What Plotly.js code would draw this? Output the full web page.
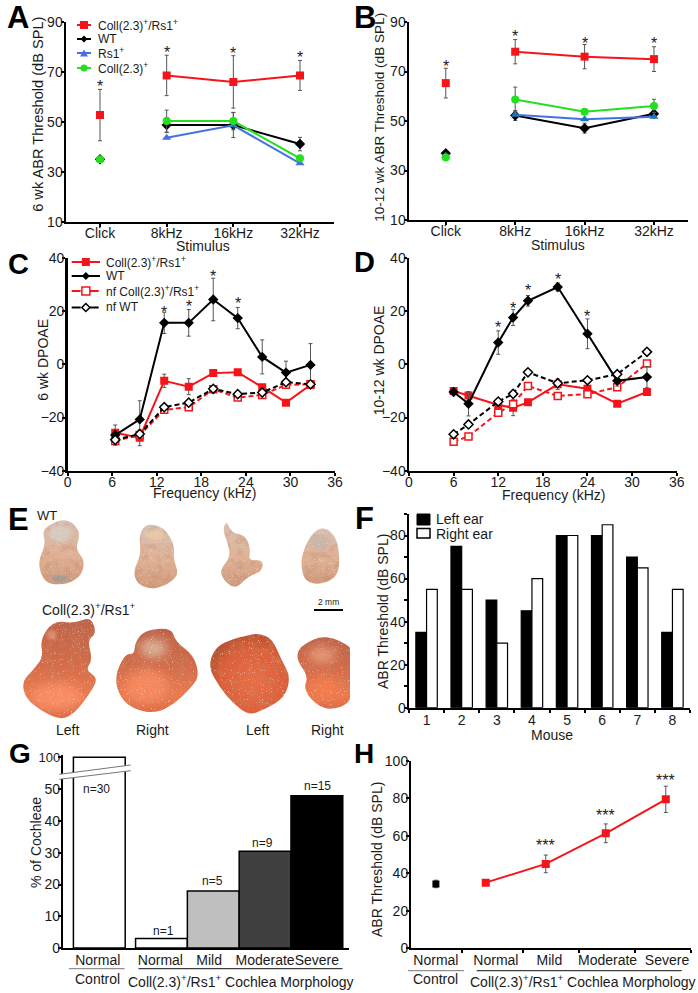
<!DOCTYPE html>
<html>
<head>
<meta charset="utf-8">
<script src="https://cdn.plot.ly/plotly-3.0.1.min.js"></script>
<style>html,body{margin:0;padding:0;background:#fff}</style>
</head>
<body>
<div id="plot" style="width:698px;height:993px"></div>
<script>
var W = 698, H = 993;
var FONT = '"Liberation Sans", Arial, sans-serif';
var COLL_RS1 = 'Coll(2.3)<sup>+</sup>/Rs1<sup>+</sup>';
var COLL = 'Coll(2.3)<sup>+</sup>';
var RS1 = 'Rs1<sup>+</sup>';

// panel A + B, Click is not joined to the rest so a null sits in the gap
var stimLabels = ['Click', '8kHz', '16kHz', '32kHz'];
var stimTicks = [0, 1, 2, 3];
var stimX = [0, 0.5, 1, 2, 3];

var aRed = [52.7, null, 68.6, 66, 68.6];
var aRedErr = [10.3, 0, 8.1, 10.5, 6];
var aWT = [35, null, 48.7, 48.7, 41.1];
var aWTErr = [0, 0, 3, 5, 2.7];
var aRs1 = [34.7, null, 43.6, 48.6, 33.4];
var aColl = [35, null, 50.3, 50.3, 35.4];
var aCollErr = [0, 0, 4.4, 3.5, 0];
var aStarX = [0, 1, 2, 3];
var aStarY = [65.4, 79, 78.5, 77];

var bRed = [65.3, null, 78, 76, 75];
var bRedErr = [6, 0, 4.9, 4.9, 5];
var bWT = [37, null, 52.2, 47.1, 52.9];
var bWTErr = [0, 0, 2, 2, 0];
var bRs1 = [36, null, 52.5, 50.7, 51.7];
var bColl = [35.3, null, 58.7, 53.7, 56.1];
var bCollErr = [0, 0, 5, 0, 2.7];
var bStarX = [0, 1, 2, 3];
var bStarY = [73.3, 85.4, 82.7, 82.5];

// panel C
var cFreq = [6.4, 9.7, 13, 16.3, 19.6, 22.9, 26.2, 29.4, 32.7];
var cRed = [-25.7, -27.6, -6.2, -8.4, -3.3, -3, -8.6, -14.4, -7.7];
var cRedErr = [1, 3, 2.5, 3, 1, 1, 1, 1, 1];
var cWT = [-26.6, -20.7, 15.6, 15.6, 24.4, 17.4, 2.8, -3.1, -0.2];
var cWTErr = [3.8, 7, 4, 5, 8, 4, 6.4, 4.3, 8];
var cNfRed = [-28.8, -26.6, -17.1, -16.1, -9.4, -12.5, -11.5, -7.7, -7.5];
var cNfWT = [-28.4, -26.2, -16.1, -14.4, -9.2, -11.2, -10.6, -6.7, -7.5];
var cStarX = [13, 16.3, 19.6, 22.9];
var cStarY = [20.5, 22.8, 34, 24];

// panel D
var dFreq = [6, 8, 12, 14, 16, 20, 24, 28, 32];
var dRed = [-10, -11.7, -15.3, -16.3, -14.3, -7.5, -9.2, -14.8, -10.4];
var dRedErr = [1, 1, 1, 3, 1, 2, 1, 1, 1];
var dWT = [-10.4, -14.8, 8.2, 17.6, 23.9, 29.1, 11.5, -6.2, -4.8];
var dWTErr = [1, 4.6, 4.4, 3, 2, 1.5, 5.6, 2, 4];
var dNfRed = [-29.1, -27.1, -18.2, -15, -8.1, -11.9, -11.2, -8.6, 0.3];
var dNfWT = [-26.3, -22.6, -14, -11.1, -3, -7.1, -6, -3.7, 4.7];
var dStarX = [12, 14, 16, 20, 24];
var dStarY = [14.9, 22.2, 29, 33, 19];

// panel F
var mice = [1, 2, 3, 4, 5, 6, 7, 8];
var leftEar = [35, 75, 50, 45, 80, 80, 70, 35];
var rightEar = [55, 55, 30, 60, 80, 85, 65, 55];

// panel G
var gX = [0, 1.2, 2.2, 3.2, 4.2];
var gPct = [100, 3, 18, 30.5, 48];
var gFill = ['#ffffff', '#ffffff', '#bfbfbf', '#404040', '#000000'];
var gN = ['n=30', 'n=1', 'n=5', 'n=9', 'n=15'];
var gNX = [-0.06, 1.23, 2.18, 3.15, 4.22];
var gNY = [50, 5.5, 21, 33, 51];
var gTickX = [-0.03, 1.18, 2.12, 3.2, 4.2];
var gTickText = ['Normal', 'Normal', 'Mild', 'Moderate', 'Severe'];

// panel H
var hCtrlX = [-0.83];
var hCtrlY = [34.3];
var hCtrlErr = [2];
var hX = [0, 1, 2, 3];
var hY = [35, 45, 61.3, 79.4];
var hErr = [1.5, 4.7, 5, 7];
var hStarX = [1, 2, 3];
var hStarY = [56.3, 72.5, 91];
var hTickX = [-0.83, 0.17, 1.06, 2.03, 3.02];
var hTickText = ['Normal', 'Normal', 'Mild', 'Moderate', 'Severe'];
var hSepX = [-0.4, 0.617, 1.55, 2.49, 3.42];

var RED = '#f5141a', BLUE = '#4472e0', GREEN = '#22e01e', ERR = '#555555';
var DASH = '5px,3px';

function dx(a, b) { return [a / W, b / W]; }
function dy(top, bot) { return [1 - bot / H, 1 - top / H]; }
function px(x) { return x / W; }
function py(y) { return 1 - y / H; }

function series(xa, ya, x, y, color, symbol, size, err, dash, open) {
  var t = {
    x: x, y: y, xaxis: xa, yaxis: ya, type: 'scatter', mode: 'lines+markers',
    line: {color: color, width: 2, dash: dash || 'solid'},
    marker: {symbol: symbol, size: size, color: open ? '#ffffff' : color, line: {color: color, width: open ? 1.5 : 0}}
  };
  if (err) t.error_y = {type: 'data', array: err, color: ERR, thickness: 1, width: 2};
  return t;
}

function axisBase(extra) {
  var a = {
    showline: true, linecolor: '#000', showgrid: false, zeroline: false,
    ticks: 'outside', ticklen: 3, tickwidth: 2, tickcolor: '#000', tickangle: 0,
    tickfont: {family: FONT, size: 14, color: '#1a1a1a'}, fixedrange: true
  };
  return Object.assign(a, extra);
}

var traces = [
  // A
  series('x', 'y', stimX, aWT, '#000000', 'diamond', 8, aWTErr),
  series('x', 'y', stimX, aRs1, BLUE, 'triangle-up', 8),
  series('x', 'y', stimX, aColl, GREEN, 'circle', 8, aCollErr),
  series('x', 'y', stimX, aRed, RED, 'square', 8, aRedErr),
  // B
  series('x2', 'y2', stimX, bWT, '#000000', 'diamond', 8, bWTErr),
  series('x2', 'y2', stimX, bRs1, BLUE, 'triangle-up', 8),
  series('x2', 'y2', stimX, bColl, GREEN, 'circle', 8, bCollErr),
  series('x2', 'y2', stimX, bRed, RED, 'square', 8, bRedErr),
  // C
  series('x3', 'y3', cFreq, cRed, RED, 'square', 8, cRedErr),
  series('x3', 'y3', cFreq, cNfRed, RED, 'square', 7, null, DASH, true),
  series('x3', 'y3', cFreq, cWT, '#000000', 'diamond', 8, cWTErr),
  series('x3', 'y3', cFreq, cNfWT, '#000000', 'diamond', 7, null, DASH, true),
  // D
  series('x4', 'y4', dFreq, dRed, RED, 'square', 8, dRedErr),
  series('x4', 'y4', dFreq, dNfRed, RED, 'square', 7, null, DASH, true),
  series('x4', 'y4', dFreq, dWT, '#000000', 'diamond', 8, dWTErr),
  series('x4', 'y4', dFreq, dNfWT, '#000000', 'diamond', 7, null, DASH, true),
  // F
  {x: mice, y: leftEar, xaxis: 'x5', yaxis: 'y5', type: 'bar', name: 'Left ear',
    marker: {color: '#000', line: {color: '#000', width: 1.2}}},
  {x: mice, y: rightEar, xaxis: 'x5', yaxis: 'y5', type: 'bar', name: 'Right ear',
    marker: {color: '#fff', line: {color: '#000', width: 1.2}}},
  // G, drawn twice because of the axis break
  {x: gX, y: gPct, xaxis: 'x6', yaxis: 'y6', type: 'bar', width: 1,
    marker: {color: gFill, line: {color: '#000', width: 1.5}}},
  {x: gX, y: gPct, xaxis: 'x6', yaxis: 'y7', type: 'bar', width: 1,
    marker: {color: gFill, line: {color: '#000', width: 1.5}}},
  // H
  series('x8', 'y8', hCtrlX, hCtrlY, '#000000', 'square', 7, hCtrlErr),
  series('x8', 'y8', hX, hY, RED, 'square', 8, hErr)
];
// B has darker triangles than A
traces[5].marker.color = '#1f74b8';

var annotations = [];
var shapes = [];

function paperText(text, x, y, size, anchor, angle, bold) {
  annotations.push({
    xref: 'paper', yref: 'paper', x: px(x), y: py(y), xanchor: anchor || 'center', yanchor: 'middle',
    text: bold ? '<b>' + text + '</b>' : text, showarrow: false, textangle: angle || 0,
    font: {family: FONT, size: size, color: bold ? '#000' : '#1a1a1a'}
  });
}

function stars(xa, ya, xs, ys, text) {
  xs.forEach(function (v, i) {
    annotations.push({
      xref: xa, yref: ya, x: v, y: ys[i], text: text || '*', showarrow: false, yshift: -3,
      font: {family: FONT, size: 16, color: '#222'}
    });
  });
}

function line(x0, y0, x1, y1, color, width, dash) {
  shapes.push({type: 'line', xref: 'paper', yref: 'paper', x0: px(x0), y0: py(y0), x1: px(x1), y1: py(y1),
    line: {color: color, width: width, dash: dash || 'solid'}});
}

function poly(points, fill, outline, lw) {
  var d = points.map(function (p, i) { return (i ? 'L' : 'M') + px(p[0]) + ',' + py(p[1]); }).join(' ') + ' Z';
  shapes.push({type: 'path', xref: 'paper', yref: 'paper', path: d, fillcolor: fill,
    line: {color: outline || fill, width: lw || 0}});
}

function glyph(kind, x, y, r, color, open) {
  var fill = open ? '#ffffff' : color, lw = open ? 1.5 : 0;
  if (kind == 'square') poly([[x - r, y - r], [x + r, y - r], [x + r, y + r], [x - r, y + r]], fill, color, lw);
  if (kind == 'diamond') poly([[x, y - r - 1], [x + r + 1, y], [x, y + r + 1], [x - r - 1, y]], fill, color, lw);
  if (kind == 'triangle') poly([[x, y - r], [x + r + 0.5, y + r], [x - r - 0.5, y + r]], fill, color, lw);
  if (kind == 'circle') shapes.push({type: 'circle', xref: 'paper', yref: 'paper', x0: px(x - r), x1: px(x + r), y0: py(y + r), y1: py(y - r), fillcolor: fill, line: {width: 0}});
}

// hand placed legends, the native one has rows too tall for these panels
function legendRow(name, y, x0, x1, tx, kind, r, color, dash, open) {
  line(x0, y, x1, y, color, 2, dash);
  glyph(kind, (x0 + x1) / 2, y, r, color, open);
  paperText(name, tx, y, 12, 'left');
}

legendRow(COLL_RS1, 25, 77, 91, 96, 'square', 4, RED);
legendRow('WT', 39, 77, 91, 96, 'diamond', 2.5, '#000000');
legendRow(RS1, 53, 77, 91, 96, 'triangle', 3.5, BLUE);
legendRow(COLL, 68, 77, 91, 96, 'circle', 3.5, GREEN);

legendRow(COLL_RS1, 262, 71.7, 100, 104, 'square', 4, RED);
legendRow('WT', 276, 71.7, 100, 104, 'diamond', 3, '#000000');
legendRow('nf ' + COLL_RS1, 291, 71.7, 100, 104, 'square', 4, RED, 'dash', true);
legendRow('nf WT', 307.5, 71.7, 100, 104, 'diamond', 3, '#000000', 'dash', true);

poly([[417, 514], [430, 514], [430, 525], [417, 525]], '#000', '#000', 1);
poly([[417, 528.5], [430, 528.5], [430, 538], [417, 538]], '#fff', '#000', 1.5);
paperText('Left ear', 434, 519, 14, 'left');
paperText('Right ear', 434, 533.5, 14, 'left');

// axis titles
paperText('6 wk ABR Threshold (dB SPL)', 38.3, 114.5, 14.6, 'center', -90);
paperText('10-12 wk ABR Threshold (dB SPL)', 379.3, 117.5, 13.6, 'center', -90);
paperText('6 wk DPOAE', 42.7, 360, 14, 'center', -90);
paperText('10-12 wk DPOAE', 379.3, 360, 14, 'center', -90);
paperText('ABR Threshold (dB SPL)', 383, 612, 14, 'center', -90);
paperText('% of Cochleae', 36, 843, 14, 'center', -90);
paperText('ABR Threshold (dB SPL)', 377, 860, 14, 'center', -90);
paperText('Stimulus', 202.7, 246, 14);
paperText('Stimulus', 557.7, 245, 14);
paperText('Frequency (kHz)', 204, 493, 14);
paperText('Frequency (kHz)', 553, 495, 14);
paperText('Mouse', 551.7, 735, 14);

// panel letters
[['A', 5, 17, 31], ['B', 352, 17, 31], ['C', 6, 264, 29], ['D', 352, 262, 29],
 ['E', 6, 519, 31], ['F', 353, 518, 31], ['G', 7, 753, 28], ['H', 352, 753, 28]].forEach(function (l) {
  paperText(l[0], l[1], l[2], l[3], 'left', 0, true);
});

// panel E labels
paperText('WT', 35, 515, 13, 'left');
paperText(COLL_RS1, 40, 609, 14, 'left');
paperText('2 mm', 328, 602, 8.5);
line(314, 610, 343, 610, '#000', 2);
[['Left', 67], ['Right', 152], ['Left', 257], ['Right', 327]].forEach(function (l) {
  paperText(l[0], l[1], 730, 14);
});

// group captions of G and H
line(69, 968.7, 124.5, 968.7, '#777', 1);
line(138.5, 968.7, 342.5, 968.7, '#111', 1);
paperText('Control', 97.7, 979, 14);
paperText(COLL_RS1 + ' Cochlea Morphology', 241, 981, 14);
line(408, 970.7, 464, 970.7, '#777', 1);
line(476.7, 970.7, 681.7, 970.7, '#111', 1);
paperText('Control', 435.7, 979, 14);
paperText(COLL_RS1 + ' Cochlea Morphology', 582.5, 981, 14);

// axis break in G
poly([[59.3, 774.3], [130.7, 765], [130.7, 770.7], [59.3, 779.3]], '#fff', '#fff', 0);
line(59.3, 774.3, 130.7, 765, '#777', 1);
line(59.3, 779.3, 130.7, 770.7, '#777', 1);

stars('x', 'y', aStarX, aStarY);
stars('x2', 'y2', bStarX, bStarY);
stars('x3', 'y3', cStarX, cStarY);
stars('x4', 'y4', dStarX, dStarY);
stars('x8', 'y8', hStarX, hStarY, '***');

gN.forEach(function (t, i) {
  annotations.push({xref: 'x6', yref: 'y6', x: gNX[i], y: gNY[i], text: t, showarrow: false,
    font: {family: FONT, size: 12, color: '#1a1a1a'}});
});

// panel E has photographs in the original, painted here as an svg backdrop
var wtOutlines = [
  [[172,62],[205,60],[228,78],[240,105],[226,150],[254,178],[246,225],[205,252],[150,254],[125,230],[114,185],[138,130],[125,90]],
  [[440,70],[492,82],[524,135],[520,180],[538,225],[495,258],[450,268],[410,250],[400,210],[424,165],[416,105]],
  [[680,62],[694,98],[737,106],[752,150],[745,182],[790,180],[786,214],[745,228],[706,268],[670,240],[660,210],[692,170],[682,125],[668,90]],
  [[955,84],[989,88],[1016,130],[1019,215],[990,244],[945,254],[911,238],[901,180],[925,116]]
];
var collOutlines = [
  [[160,362],[225,370],[272,350],[290,400],[262,420],[278,480],[256,510],[296,535],[265,587],[222,642],[180,660],[120,630],[76,594],[66,545],[100,510],[130,470],[120,420]],
  [[435,390],[515,384],[526,425],[582,466],[598,530],[572,564],[525,610],[470,640],[406,630],[360,594],[343,530],[376,460],[402,464],[406,425]],
  [[700,416],[745,406],[775,400],[817,416],[844,480],[872,530],[854,594],[790,630],[745,646],[700,610],[660,564],[624,500],[646,440]],
  [[925,426],[960,410],[1000,414],[1034,430],[1060,450],[1060,594],[1020,626],[960,626],[910,570],[925,530],[890,480],[896,446]]
];
var collFills = ['url(#c1)', 'url(#c1)', 'url(#c2)', 'url(#c1)'];

// round the corners, midpoint to midpoint through each outline point
function smooth(pts) {
  var n = pts.length;
  var mid = function (a, b) { return ((a[0] + b[0]) / 2) + ',' + ((a[1] + b[1]) / 2); };
  var d = 'M' + mid(pts[n - 1], pts[0]);
  pts.forEach(function (p, i) {
    d += ' Q' + p[0] + ',' + p[1] + ' ' + mid(p, pts[(i + 1) % n]);
  });
  return d + 'Z';
}

function photoSvg() {
  var wt = wtOutlines.map(smooth), coll = collOutlines.map(smooth);
  var s = '<svg xmlns="http://www.w3.org/2000/svg" viewBox="0 0 1050 720" width="1050" height="720"><defs>' +
    '<linearGradient id="w" x1="0" y1="0" x2="0" y2="1"><stop offset="0" stop-color="#d6c0b2"/><stop offset=".55" stop-color="#dfb196"/><stop offset="1" stop-color="#d09a7e"/></linearGradient>' +
    '<linearGradient id="c1" x1="0" y1="0" x2="0" y2="1"><stop offset="0" stop-color="#bd6348"/><stop offset=".45" stop-color="#d36c4a"/><stop offset=".8" stop-color="#ee7a50"/><stop offset="1" stop-color="#dd6a44"/></linearGradient>' +
    '<radialGradient id="c2" cx=".55" cy=".6" r=".6"><stop offset="0" stop-color="#e86f48"/><stop offset=".7" stop-color="#db5f3a"/><stop offset="1" stop-color="#b85230"/></radialGradient>' +
    '<clipPath id="cc"><path d="' + coll.join(' ') + '"/></clipPath>' +
    '<clipPath id="ww"><path d="' + wt.join(' ') + '"/></clipPath>' +
    '<filter id="soft"><feGaussianBlur stdDeviation="1.5"/></filter><filter id="blur"><feGaussianBlur stdDeviation="14"/></filter><filter id="blur2"><feGaussianBlur stdDeviation="5"/></filter>' +
    '<filter id="tex"><feTurbulence type="fractalNoise" baseFrequency=".3" numOctaves="2" seed="4"/><feColorMatrix values="0 0 0 0 1 0 0 0 0 .88 0 0 0 0 .72 0 0 0 6 -3.9"/><feComposite in2="SourceGraphic" operator="in"/></filter>' +
    '<filter id="mot"><feTurbulence type="fractalNoise" baseFrequency=".045" numOctaves="3" seed="9"/><feColorMatrix values="0 0 0 0 .55 0 0 0 0 .24 0 0 0 0 .12 0 0 0 4 -1.9"/><feComposite in2="SourceGraphic" operator="in"/></filter>' +
    '</defs><rect width="1050" height="720" fill="#fff"/>';
  wt.concat(coll).forEach(function (d, i) {
    var fill = i < 4 ? 'url(#w)' : collFills[i - 4];
    s += '<path d="' + d + '" fill="' + fill + '" filter="url(#soft)"/>';
  });
  wt.concat(coll).forEach(function (d) {
    s += '<path d="' + d + '" fill="#fff" opacity=".3" filter="url(#mot)"/>';
  });
  s += '<g clip-path="url(#cc)"><g filter="url(#blur)"><ellipse cx="170" cy="590" rx="75" ry="40" fill="#f88c64"/><ellipse cx="440" cy="560" rx="65" ry="50" fill="#f4885f"/>' +
    '<ellipse cx="460" cy="445" rx="40" ry="28" fill="#d9ad94"/><ellipse cx="975" cy="565" rx="45" ry="32" fill="#f27b4c"/><ellipse cx="965" cy="465" rx="40" ry="25" fill="#e59574"/></g>' +
    '<circle cx="155" cy="405" r="15" fill="#d98a6c" filter="url(#blur2)"/></g>';
  s += '<g clip-path="url(#ww)" filter="url(#blur2)"><ellipse cx="180" cy="236" rx="26" ry="9" fill="#9d9a96"/><ellipse cx="180" cy="100" rx="32" ry="26" fill="#d8c9bf"/>' +
    '<ellipse cx="960" cy="125" rx="28" ry="20" fill="#c9b6aa"/><ellipse cx="465" cy="105" rx="30" ry="16" fill="#eac6a8"/></g>';
  wt.concat(coll).forEach(function (d) {
    s += '<path d="' + d + '" fill="#fff" opacity=".55" filter="url(#tex)"/>';
  });
  return s + '</svg>';
}

var layout = {
  width: W, height: H, margin: {l: 0, r: 0, t: 0, b: 0}, autosize: false,
  paper_bgcolor: '#fff', plot_bgcolor: 'rgba(0,0,0,0)', showlegend: false,
  font: {family: FONT}, barmode: 'group', bargap: 0.39, bargroupgap: 0,
  annotations: annotations, shapes: shapes,
  images: [{
    source: 'data:image/svg+xml;charset=utf-8,' + encodeURIComponent(photoSvg()),
    xref: 'paper', yref: 'paper', x: 0, y: py(500), sizex: 350 / W, sizey: 240 / H,
    xanchor: 'left', yanchor: 'top', sizing: 'stretch', layer: 'below'
  }],

  xaxis: axisBase({domain: dx(66, 334), range: [-0.51, 3.51], anchor: 'y', tickvals: stimTicks, ticktext: stimLabels, linewidth: 2, ticklabelstandoff: -6}),
  yaxis: axisBase({domain: dy(22, 221.7), range: [10, 90], anchor: 'x', tickvals: [10, 30, 50, 70, 90], linewidth: 2.5, ticklabelstandoff: -5}),
  xaxis2: axisBase({domain: dx(409, 688), range: [-0.53, 3.49], anchor: 'y2', tickvals: stimTicks, ticktext: stimLabels, linewidth: 2, ticklabelstandoff: -6}),
  yaxis2: axisBase({domain: dy(22, 220), range: [10, 90], anchor: 'x2', tickvals: [10, 30, 50, 70, 90], linewidth: 2.5, ticklabelstandoff: -5}),

  xaxis3: axisBase({domain: dx(67.7, 335), range: [0, 36], anchor: 'y3', dtick: 6, tick0: 0, linewidth: 2, ticklabelstandoff: -6}),
  yaxis3: axisBase({domain: dy(258, 470.7), range: [-40, 40], anchor: 'x3', dtick: 20, linewidth: 2.5, ticklabelstandoff: -5}),
  xaxis4: axisBase({domain: dx(409, 676.7), range: [0, 36], anchor: 'y4', dtick: 6, tick0: 0, linewidth: 2, ticklabelstandoff: -6}),
  yaxis4: axisBase({domain: dy(258, 470.7), range: [-40, 40], anchor: 'x4', dtick: 20, linewidth: 2.5, ticklabelstandoff: -5}),

  xaxis5: axisBase({domain: dx(409, 690), range: [0.5, 8.5], anchor: 'y5', tickvals: mice, ticks: '', linewidth: 2, ticklabelstandoff: -2,
    minor: {tickvals: [0.5, 1.5, 2.5, 3.5, 4.5, 5.5, 6.5, 7.5, 8.5], ticks: 'outside', ticklen: 3, tickwidth: 2, tickcolor: '#000'}}),
  yaxis5: axisBase({domain: dy(514, 707.7), range: [0, 90], anchor: 'x5', tickvals: [0, 20, 40, 60, 80], linewidth: 2.5, ticklabelstandoff: -5,
    minor: {dtick: 10, ticks: 'outside', ticklen: 3, tickwidth: 2, tickcolor: '#000'}}),

  xaxis6: axisBase({domain: dx(63.3, 349), range: [-0.695, 4.82], anchor: 'y6', tickvals: gTickX, ticktext: gTickText, ticks: '', linewidth: 2, ticklabelstandoff: -2}),
  yaxis6: axisBase({domain: dy(771, 948), range: [0, 55.8], anchor: 'x6', tickvals: [0, 10, 20, 30, 40, 50], linewidth: 2.5, ticklabelstandoff: -5}),
  yaxis7: axisBase({domain: dy(755.3, 775), range: [82.3, 102], anchor: 'x6', tickvals: [100], linewidth: 2.5, ticklabelstandoff: -5,
    tickfont: {family: FONT, size: 13, color: '#1a1a1a'}}),

  xaxis8: axisBase({domain: dx(411, 691), range: [-1.245, 3.42], anchor: 'y8', tickvals: hTickX, ticktext: hTickText, ticks: '', linewidth: 2, ticklabelstandoff: -2,
    minor: {tickvals: hSepX, ticks: 'outside', ticklen: 3, tickwidth: 2, tickcolor: '#000'}}),
  yaxis8: axisBase({domain: dy(760.7, 948.3), range: [0, 100], anchor: 'x8', dtick: 20, linewidth: 2, ticklabelstandoff: -5})
};

Plotly.newPlot('plot', traces, layout, {staticPlot: true, displayModeBar: false});
</script>
</body>
</html>
